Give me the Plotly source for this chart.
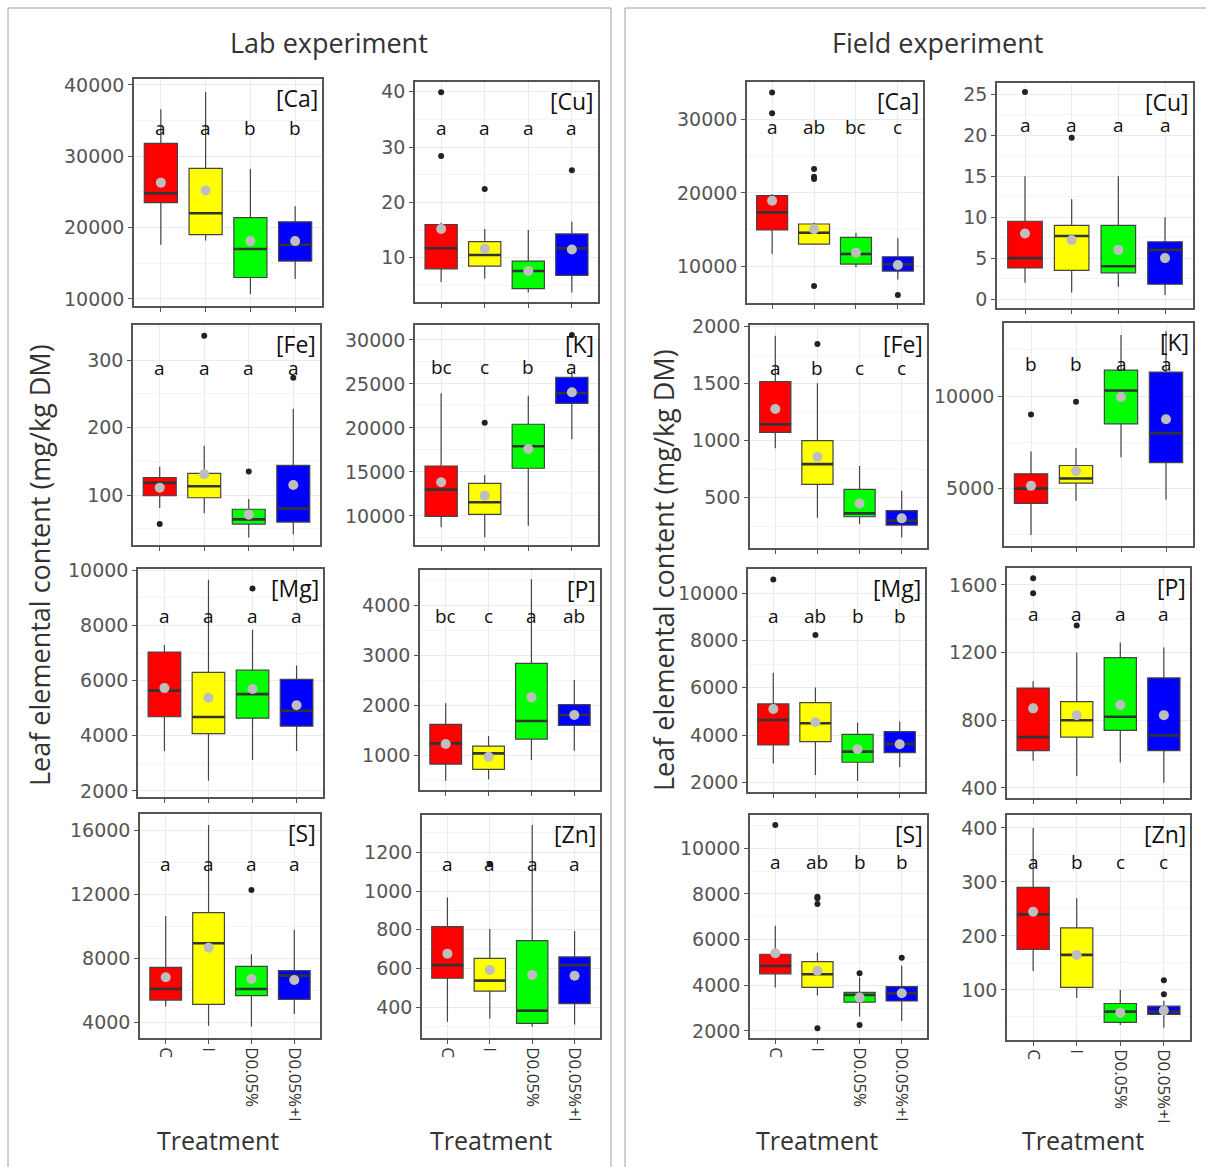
import plotly.graph_objects as go

W, H = 1206, 1167

treatments = ["C", "I", "D0.05%", "D0.05%+I"]
box_colors = ["#FF0000", "#FFFF00", "#00FF00", "#0000FF"]

# ---------------- Lab experiment ----------------
lab_ca = dict(low=[17600, 18200, 10700, 12800], q1=[23500, 19000, 13000, 15300],
              med=[24800, 22000, 17000, 17600], q3=[31800, 28300, 21400, 20800],
              high=[36600, 39000, 28200, 23000], mean=[26300, 25200, 18100, 18100],
              out_x=[], out_y=[], letters=["a", "a", "b", "b"], letter_y=33900)
lab_fe = dict(low=[81, 73, 37, 42], q1=[99, 96, 57, 60], med=[118, 113, 64, 80],
              q3=[126, 132, 79, 144], high=[142, 173, 94, 228], mean=[111, 131, 71, 115],
              out_x=[0, 1, 2, 3], out_y=[57, 336, 135, 274],
              letters=["a", "a", "a", "a"], letter_y=289)
lab_mg = dict(low=[3450, 2370, 3120, 3450], q1=[4690, 4080, 4640, 4350],
              med=[5640, 4680, 5510, 4910], q3=[7040, 6300, 6380, 6050],
              high=[7290, 9660, 7850, 6550], mean=[5730, 5380, 5700, 5110],
              out_x=[2], out_y=[9340], letters=["a", "a", "a", "a"], letter_y=8335)
lab_s = dict(low=[4980, 3790, 3730, 4520], q1=[5390, 5120, 5660, 5430],
             med=[6080, 8930, 6080, 6910], q3=[7430, 10840, 7490, 7230],
             high=[10630, 16310, 8240, 9780], mean=[6810, 8660, 6700, 6640],
             out_x=[2], out_y=[12260], letters=["a", "a", "a", "a"], letter_y=13880)
lab_cu = dict(low=[5.6, 6.2, 3.7, 3.7], q1=[8.0, 8.5, 4.4, 6.8], med=[11.7, 10.5, 7.6, 11.7],
              q3=[16.0, 12.9, 9.4, 14.3], high=[16.3, 15.2, 15.0, 16.5],
              mean=[15.2, 11.6, 7.6, 11.5],
              out_x=[0, 0, 1, 3], out_y=[39.9, 28.4, 22.4, 25.8],
              letters=["a", "a", "a", "a"], letter_y=33.4)
lab_k = dict(low=[8710, 7580, 8900, 18710], q1=[9960, 10190, 15420, 22800],
             med=[12990, 11550, 17920, 23940], q3=[15680, 13710, 20420, 25760],
             high=[23940, 14660, 23670, 26500], mean=[13830, 12310, 17610, 24050],
             out_x=[1, 3], out_y=[20600, 30570], letters=["bc", "c", "b", "a"], letter_y=26900)
lab_p = dict(low=[500, 527, 913, 1100], q1=[833, 727, 1333, 1607],
             med=[1247, 1047, 1693, 1813], q3=[1627, 1193, 2847, 2020],
             high=[2047, 1393, 4527, 2513], mean=[1233, 980, 2167, 1813],
             out_x=[], out_y=[], letters=["bc", "c", "a", "ab"], letter_y=3793)
lab_zn = dict(low=[326, 343, 300, 312], q1=[550, 484, 317, 419], med=[618, 538, 383, 618],
              q3=[816, 653, 744, 660], high=[966, 804, 1341, 794], mean=[677, 593, 567, 563],
              out_x=[1], out_y=[1138], letters=["a", "a", "a", "a"], letter_y=1140)

# ---------------- Field experiment ----------------
field_ca = dict(low=[11720, 12930, 9910, 8280], q1=[14970, 13070, 10360, 9410],
                med=[17360, 14600, 11720, 10320], q3=[19620, 15780, 13970, 11350],
                high=[19840, 15960, 14600, 13840], mean=[18940, 15060, 11900, 10230],
                out_x=[0, 0, 1, 1, 1, 1, 3], out_y=[33600, 30770, 23230, 22190, 21870, 7380, 6160],
                letters=["a", "ab", "bc", "c"], letter_y=28870)
field_fe = dict(low=[933, 325, 269, 152], q1=[1073, 617, 333, 260], med=[1143, 795, 363, 298],
                q3=[1518, 1000, 573, 386], high=[1921, 1503, 778, 561], mean=[1278, 860, 450, 319],
                out_x=[1], out_y=[1848], letters=["a", "b", "c", "c"], letter_y=1640)
field_mg = dict(low=[2800, 2310, 2060, 2640], q1=[3580, 3720, 2850, 3260],
                med=[4640, 4500, 3300, 3620], q3=[5320, 5370, 4030, 4150],
                high=[6640, 6010, 4530, 4570], mean=[5100, 4540, 3400, 3610],
                out_x=[0, 1], out_y=[10590, 8240], letters=["a", "ab", "b", "b"], letter_y=9040)
field_s = dict(low=[3900, 3550, 2630, 2440], q1=[4500, 3910, 3260, 3310],
               med=[4850, 4480, 3580, 3650], q3=[5360, 5040, 3690, 3940],
               high=[6610, 5430, 4350, 4860], mean=[5400, 4640, 3460, 3650],
               out_x=[0, 1, 1, 1, 1, 2, 2, 3],
               out_y=[11020, 7880, 7810, 7560, 2120, 4530, 2260, 5210],
               letters=["a", "ab", "b", "b"], letter_y=9390)
field_cu = dict(low=[2.0, 0.8, 1.5, 0.5], q1=[3.8, 3.5, 3.2, 1.8], med=[5.0, 7.7, 4.0, 6.0],
                q3=[9.5, 9.0, 9.0, 7.0], high=[15.0, 12.2, 15.0, 10.0], mean=[8.0, 7.2, 6.0, 5.0],
                out_x=[0, 1], out_y=[25.3, 19.7], letters=["a", "a", "a", "a"], letter_y=21.3)
field_k = dict(low=[2500, 4350, 6700, 4400], q1=[4200, 5300, 8500, 6400],
               med=[5000, 5550, 10300, 8000], q3=[5800, 6250, 11400, 11300],
               high=[7000, 7200, 13300, 13500], mean=[5150, 5950, 9950, 8750],
               out_x=[0, 1], out_y=[9000, 9700], letters=["b", "b", "a", "a"], letter_y=11750)
field_p = dict(low=[560, 470, 550, 430], q1=[620, 700, 740, 620], med=[700, 800, 820, 710],
               q3=[990, 910, 1170, 1050], high=[1030, 1200, 1260, 1230], mean=[870, 830, 890, 830],
               out_x=[0, 0, 1], out_y=[1640, 1550, 1360], letters=["a", "a", "a", "a"], letter_y=1430)
field_zn = dict(low=[135, 85, 35, 30], q1=[175, 105, 40, 55], med=[240, 165, 60, 60],
                q3=[290, 215, 75, 70], high=[400, 270, 100, 80], mean=[245, 165, 58, 62],
                out_x=[3, 3], out_y=[118, 92], letters=["a", "b", "c", "c"], letter_y=337)

# panel: data, label, (left, right, top, bottom) px, y-range, dtick, bottom-row
panels = [
    (lab_ca, "[Ca]", (134, 322, 79, 306), [9000, 40840], 10000, False),
    (lab_fe, "[Fe]", (133, 320, 325, 545), [26, 352], 100, False),
    (lab_mg, "[Mg]", (138, 323, 569, 797), [1780, 10050], 2000, False),
    (lab_s, "[S]", (140, 320, 814, 1038), [3020, 17000], 4000, True),
    (lab_cu, "[Cu]", (415, 598, 82, 302), [2.0, 41.75], 10, False),
    (lab_k, "[K]", (415, 598, 325, 545), [6700, 31700], 5000, False),
    (lab_p, "[P]", (420, 600, 570, 790), [314, 4714], 1000, False),
    (lab_zn, "[Zn]", (422, 600, 815, 1038), [242, 1392], 200, True),
    (field_ca, "[Ca]", (747, 923, 82, 303), [5085, 35010], 10000, False),
    (field_fe, "[Fe]", (750, 927, 325, 548), [59, 2015], 500, False),
    (field_mg, "[Mg]", (748, 925, 569, 792), [1590, 11030], 2000, False),
    (field_s, "[S]", (750, 927, 815, 1038), [1690, 11460], 2000, True),
    (field_cu, "[Cu]", (997, 1193, 83, 308), [-1.1, 26.4], 5, False),
    (field_k, "[K]", (1004, 1193, 323, 546), [1900, 13950], 5000, False),
    (field_p, "[P]", (1007, 1190, 568, 798), [340, 1700], 400, False),
    (field_zn, "[Zn]", (1007, 1190, 815, 1040), [7.4, 424], 100, True),
]

TICK_FONT = dict(family="DejaVu Sans", size=19, color="#555555")
TEXT_FONT = "Open Sans"
BOX_HALF = 0.37

fig = go.Figure()
layout = dict(width=W, height=H, margin=dict(l=0, r=0, t=0, b=0, autoexpand=False),
              paper_bgcolor="white", plot_bgcolor="white", showlegend=False)
annotations = []

for k, (d, label, (l, r, t, b), yr, dt, bottom) in enumerate(panels, start=1):
    suffix = "" if k == 1 else str(k)
    xa, ya = "x" + suffix, "y" + suffix
    layout["xaxis" + suffix] = dict(
        domain=[l / W, r / W], range=[-0.6, 3.6], anchor=ya, automargin=False,
        tickmode="array", tickvals=[0, 1, 2, 3],
        ticktext=treatments if bottom else ["", "", "", ""],
        tickangle=90, tickfont=dict(family=TEXT_FONT, size=17, color="#333333"),
        showgrid=True, gridcolor="#EBEBEB", gridwidth=1, zeroline=False,
        showline=True, mirror=True, linecolor="#555555", linewidth=1.5,
        ticks="outside", ticklen=4, tickcolor="#555555")
    layout["yaxis" + suffix] = dict(
        domain=[1 - b / H, 1 - t / H], range=yr, anchor=xa, automargin=False,
        tickmode="linear", tick0=0, dtick=dt, tickformat="d", tickfont=TICK_FONT,
        showgrid=True, gridcolor="#EBEBEB", gridwidth=1, zeroline=False,
        minor=dict(dtick=dt / 2, tick0=0, showgrid=True, gridcolor="#F4F4F4", gridwidth=1, ticks=""),
        showline=True, mirror=True, linecolor="#555555", linewidth=1.5,
        ticks="outside", ticklen=4, tickcolor="#555555")

    for i in range(4):
        fig.add_trace(go.Box(
            x=[i], q1=[d["q1"][i]], median=[d["med"][i]], q3=[d["q3"][i]],
            lowerfence=[d["low"][i]], upperfence=[d["high"][i]],
            fillcolor=box_colors[i], line=dict(color="#444444", width=1.2),
            whiskerwidth=0, width=2 * BOX_HALF, boxpoints=False,
            xaxis=xa, yaxis=ya, hoverinfo="skip"))
    mx, my = [], []
    for i in range(4):
        mx += [i - BOX_HALF, i + BOX_HALF, None]
        my += [d["med"][i], d["med"][i], None]
    fig.add_trace(go.Scatter(x=mx, y=my, mode="lines", line=dict(color="#333333", width=2.6),
                             xaxis=xa, yaxis=ya, hoverinfo="skip"))
    fig.add_trace(go.Scatter(x=[0, 1, 2, 3], y=d["mean"], mode="markers",
                             marker=dict(color="#BEBEBE", size=10), xaxis=xa, yaxis=ya,
                             hoverinfo="skip"))
    if d["out_x"]:
        fig.add_trace(go.Scatter(x=d["out_x"], y=d["out_y"], mode="markers",
                                 marker=dict(color="#222222", size=6), xaxis=xa, yaxis=ya,
                                 hoverinfo="skip"))
    for i, letter in enumerate(d["letters"]):
        annotations.append(dict(x=i, y=d["letter_y"], xref=xa, yref=ya, text=letter,
                                showarrow=False, font=dict(family=TEXT_FONT, size=19, color="#111111")))
    annotations.append(dict(x=1, y=1, xref=f"{xa} domain", yref=f"{ya} domain", text=label,
                            xanchor="right", yanchor="top", xshift=-2, yshift=-1, showarrow=False,
                            font=dict(family=TEXT_FONT, size=23, color="#111111")))


def add_text(x, y, text, size, angle=0):
    annotations.append(dict(x=x / W, y=1 - y / H, xref="paper", yref="paper", text=text,
                            showarrow=False, textangle=angle, xanchor="center", yanchor="middle",
                            font=dict(family=TEXT_FONT, size=size, color="#333333")))


add_text(329, 43, "Lab experiment", 27)
add_text(937, 43, "Field experiment", 27)
add_text(40, 565, "Leaf elemental content (mg/kg DM)", 27, -90)
add_text(664, 570, "Leaf elemental content (mg/kg DM)", 27, -90)
for cx in (218, 491, 817, 1083):
    add_text(cx, 1140, "Treatment", 25)

frame = "#A0A0A0"
shapes = []
for x0, x1 in ((8, 611), (625, 1206)):
    shapes.append(dict(type="line", xref="paper", yref="paper", x0=x0 / W, x1=x1 / W,
                       y0=1 - 8 / H, y1=1 - 8 / H, line=dict(color=frame, width=1)))
for x in (8, 611, 625):
    shapes.append(dict(type="line", xref="paper", yref="paper", x0=x / W, x1=x / W,
                       y0=0, y1=1 - 8 / H, line=dict(color=frame, width=1)))

layout["annotations"] = annotations
layout["shapes"] = shapes
fig.update_layout(**layout)

fig.write_html(
    "out.html",
    config={"displayModeBar": False},
    post_script=("document.documentElement.style.margin='0';"
                 "document.documentElement.style.padding='0';"
                 "document.body.style.margin='0';document.body.style.padding='0';"
                 "document.documentElement.style.overflow='hidden';"),
)
